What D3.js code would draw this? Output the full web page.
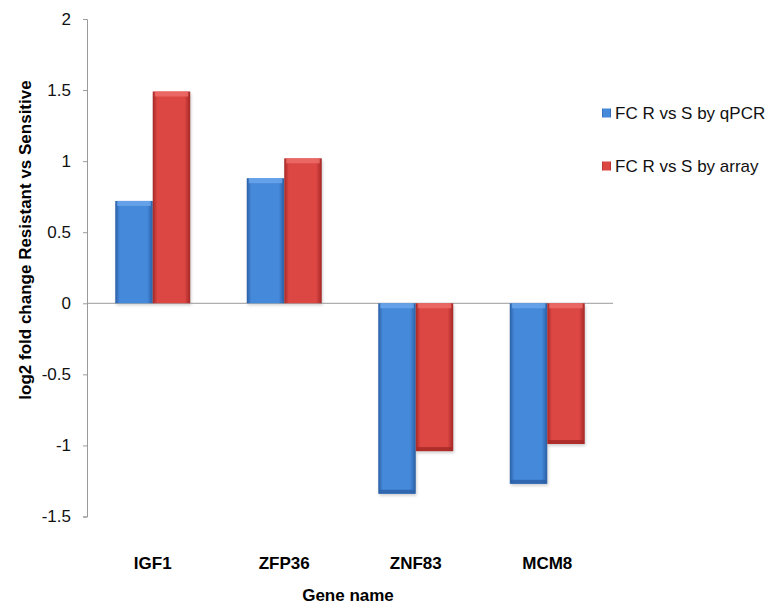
<html>
<head>
  <script src="https://d3js.org/d3.v7.min.js"></script>
</head>
<body style="margin:0;background:#fff">
  <svg id="chart" width="767" height="604"></svg>
  <script>
    // data
    const genes = ['IGF1', 'ZFP36', 'ZNF83', 'MCM8'];
    const seriesNames = ['FC R vs S by qPCR', 'FC R vs S by array'];
    const qpcr = [0.72, 0.88, -1.34, -1.27];
    const array = [1.49, 1.02, -1.04, -0.99];
    const yTicks = [2, 1.5, 1, 0.5, 0, -0.5, -1, -1.5];

    const colors = [
      { mid: '#4589da', edge: '#2a5fa5', cap: '#6aa6ea' },
      { mid: '#dc4643', edge: '#a42826', cap: '#ec6d69' }
    ];

    const svg = d3.select('#chart');
    const font = 'Liberation Sans, Arial, sans-serif';

    const x0 = d3.scaleBand().domain(genes).range([87, 613]).paddingInner(0.43).paddingOuter(0.215);
    const x1 = d3.scaleBand().domain([0, 1]).range([0, x0.bandwidth()]);
    const y = d3.scaleLinear().domain([-1.5, 2]).range([516.5, 19]);

    // gradients for the bevelled bars
    const defs = svg.append('defs');
    colors.forEach((c, i) => {
      const g = defs.append('linearGradient').attr('id', 'g' + i)
        .attr('x1', 0).attr('x2', 1).attr('y1', 0).attr('y2', 0);
      g.append('stop').attr('offset', '0%').attr('stop-color', c.edge);
      g.append('stop').attr('offset', '12%').attr('stop-color', c.mid);
      g.append('stop').attr('offset', '85%').attr('stop-color', c.mid);
      g.append('stop').attr('offset', '100%').attr('stop-color', c.edge);
    });
    const blur = defs.append('filter').attr('id', 'sh').attr('x', -0.2).attr('y', -0.2).attr('width', 1.4).attr('height', 1.4);
    blur.append('feGaussianBlur').attr('stdDeviation', 1.5);

    // y axis
    const yAxis = svg.append('g').attr('transform', 'translate(87,0)')
      .call(d3.axisLeft(y).tickValues(yTicks).tickSize(4).tickPadding(12).tickFormat(d => d));
    yAxis.select('.domain').attr('stroke', '#9a9a9a');
    yAxis.selectAll('.tick line').attr('stroke', '#9a9a9a');
    yAxis.selectAll('.tick text').attr('font-family', font).attr('font-size', 17).attr('fill', '#111');

    const rows = genes.map((g, i) => ({ gene: g, vals: [qpcr[i], array[i]] }));
    const bars = [];
    rows.forEach(r => r.vals.forEach((v, s) => bars.push({ gene: r.gene, s: s, v: v })));

    // shadows
    svg.append('g').selectAll('rect').data(bars).join('rect')
      .attr('x', d => x0(d.gene) + x1(d.s) + 1)
      .attr('y', d => Math.min(y(d.v), y(0)) + 2)
      .attr('width', x1.bandwidth())
      .attr('height', d => Math.abs(y(d.v) - y(0)))
      .attr('fill', '#000').attr('opacity', 0.18).attr('filter', 'url(#sh)');

    // zero line
    svg.append('line').attr('x1', 87).attr('x2', 613).attr('y1', y(0)).attr('y2', y(0))
      .attr('stroke', '#9a9a9a');

    const bg = svg.append('g').selectAll('g').data(bars).join('g');
    bg.append('rect')
      .attr('x', d => x0(d.gene) + x1(d.s))
      .attr('y', d => Math.min(y(d.v), y(0)))
      .attr('width', x1.bandwidth())
      .attr('height', d => Math.abs(y(d.v) - y(0)))
      .attr('fill', d => 'url(#g' + d.s + ')');
    // top/bottom bevel cap
    bg.append('rect')
      .attr('x', d => x0(d.gene) + x1(d.s) + 2)
      .attr('y', d => d.v > 0 ? y(d.v) : y(0))
      .attr('width', x1.bandwidth() - 4)
      .attr('height', 5)
      .attr('fill', d => colors[d.s].cap).attr('opacity', 0.85);
    bg.filter(d => d.v < 0).append('rect')
      .attr('x', d => x0(d.gene) + x1(d.s) + 1)
      .attr('y', d => y(d.v) - 4)
      .attr('width', x1.bandwidth() - 2)
      .attr('height', 4)
      .attr('fill', d => colors[d.s].edge).attr('opacity', 0.8);

    // category labels
    svg.append('g').selectAll('text').data(genes).join('text')
      .attr('x', d => x0(d) + x0.bandwidth() / 2)
      .attr('y', 569)
      .attr('text-anchor', 'middle')
      .attr('font-family', font).attr('font-size', 17).attr('font-weight', 'bold')
      .text(d => d);

    svg.append('text').attr('x', 348).attr('y', 601).attr('text-anchor', 'middle')
      .attr('font-family', font).attr('font-size', 17).attr('font-weight', 'bold')
      .text('Gene name');

    svg.append('text').attr('transform', 'translate(31,240) rotate(-90)').attr('text-anchor', 'middle')
      .attr('font-family', font).attr('font-size', 17).attr('font-weight', 'bold')
      .text('log2 fold change Resistant vs Sensitive');

    // legend
    const leg = svg.append('g').selectAll('g').data(seriesNames).join('g')
      .attr('transform', (d, i) => 'translate(602,' + (113 + i * 53) + ')');
    leg.append('rect').attr('x', 0).attr('y', -4.5).attr('width', 9).attr('height', 9)
      .attr('fill', (d, i) => 'url(#g' + i + ')');
    leg.append('text').attr('x', 13).attr('y', 0).attr('dy', '0.35em')
      .attr('font-family', font).attr('font-size', 17).attr('fill', '#111')
      .text(d => d);
  </script>
</body>
</html>
